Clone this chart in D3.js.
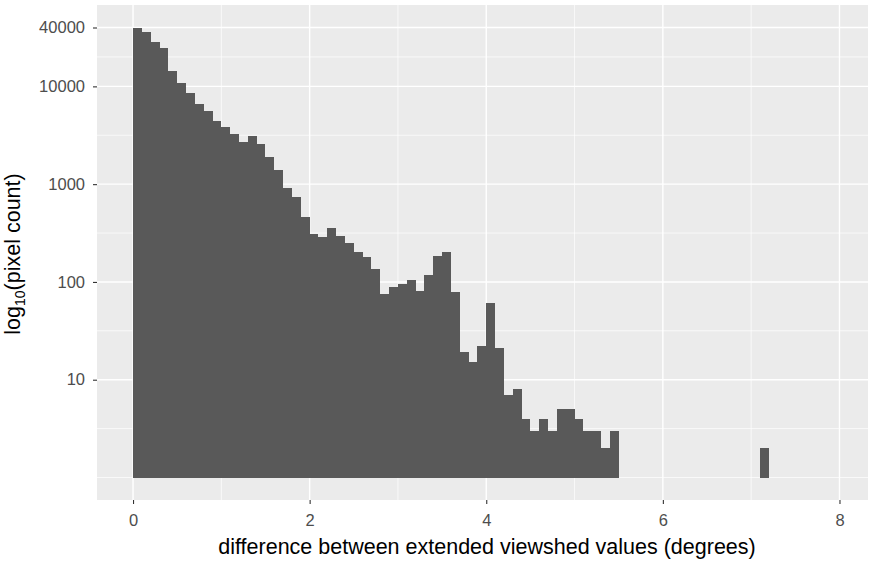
<!DOCTYPE html>
<html>
<head>
<meta charset="utf-8">
<script src="https://cdn.jsdelivr.net/npm/d3@7"></script>
<style>
  body { margin: 0; background: #fff; }
  text { font-family: "Liberation Sans", Arial, sans-serif; }
</style>
</head>
<body>
<div id="chart"></div>
<script>
// histogram counts, bins of width 0.1 starting at 0
const binWidth = 0.1
const counts = [
    40000, 35900, 28600, 24400, 14300, 10700, 8530, 6580, 5620, 4410,
    3880, 3270, 2730, 3140, 2600, 1900, 1380, 916, 747, 466,
    310, 291, 359, 295, 249, 201, 181, 136, 75, 89,
    96, 104, 80, 118, 186, 201, 78, 19, 15, 22,
    61, 21, 7, 8, 4, 3, 4, 3, 5, 5,
    4, 3, 3, 2, 3, 0, 0, 0, 0, 0,
    0, 0, 0, 0, 0, 0, 0, 0, 0, 0,
    0, 2
]
const xTicks = [0, 2, 4, 6, 8]
const xMinor = [1, 3, 5, 7]
const yTicks = [10, 100, 1000, 10000, 40000]
const yMinor = [1, 3.1623, 31.623, 316.23, 3162.3, 20000]

const W = 869, H = 561
const margin = { top: 5, right: 1, bottom: 61, left: 97 }

const bins = counts.map((n, i) => ({ x0: i * binWidth, x1: (i + 1) * binWidth, n: n }))
    .filter(d => d.n > 0)

// ggplot style 5% expansion on the log axis
const logMax = Math.log10(d3.max(counts))
const pad = 0.05 * logMax

const svg = d3.select('#chart').append('svg')
    .attr('width', W)
    .attr('height', H)

const x = d3.scaleLinear()
    .domain([-0.408, 8.323])
    .range([margin.left, W - margin.right])

const y = d3.scaleLog()
    .domain([Math.pow(10, -pad), Math.pow(10, logMax + pad)])
    .range([H - margin.bottom, margin.top])

// panel background
svg.append('rect')
    .attr('x', margin.left)
    .attr('y', margin.top)
    .attr('width', W - margin.right - margin.left)
    .attr('height', H - margin.bottom - margin.top)
    .attr('fill', '#ebebeb')

const grid = svg.append('g')
grid.selectAll('.ymin').data(yMinor).enter().append('line')
    .attr('x1', margin.left).attr('x2', W - margin.right)
    .attr('y1', d => y(d)).attr('y2', d => y(d))
    .attr('stroke', '#fff').attr('stroke-width', 0.7)
grid.selectAll('.xmin').data(xMinor).enter().append('line')
    .attr('x1', d => x(d)).attr('x2', d => x(d))
    .attr('y1', margin.top).attr('y2', H - margin.bottom)
    .attr('stroke', '#fff').attr('stroke-width', 0.7)
grid.selectAll('.ymaj').data(yTicks).enter().append('line')
    .attr('x1', margin.left).attr('x2', W - margin.right)
    .attr('y1', d => y(d)).attr('y2', d => y(d))
    .attr('stroke', '#fff').attr('stroke-width', 1.4)
grid.selectAll('.xmaj').data(xTicks).enter().append('line')
    .attr('x1', d => x(d)).attr('x2', d => x(d))
    .attr('y1', margin.top).attr('y2', H - margin.bottom)
    .attr('stroke', '#fff').attr('stroke-width', 1.4)

// bars, drawn up from 1 (log10 = 0)
svg.append('g').selectAll('rect').data(bins).enter().append('rect')
    .attr('x', d => x(d.x0))
    .attr('width', d => x(d.x1) - x(d.x0))
    .attr('y', d => y(d.n))
    .attr('height', d => y(1) - y(d.n))
    .attr('fill', '#595959')
    .attr('shape-rendering', 'crispEdges')

// axes
const xAxis = svg.append('g')
    .attr('transform', `translate(0,${H - margin.bottom})`)
    .call(d3.axisBottom(x).tickValues(xTicks).tickSize(4).tickPadding(10).tickFormat(d3.format('d')))
const yAxis = svg.append('g')
    .attr('transform', `translate(${margin.left},0)`)
    .call(d3.axisLeft(y).tickValues(yTicks).tickSize(4).tickPadding(8).tickFormat(d3.format('d')))

for (const a of [xAxis, yAxis]) {
    a.select('.domain').remove()
    a.selectAll('.tick line').attr('stroke', '#333').attr('stroke-width', 1.1)
    a.selectAll('.tick text')
        .attr('fill', '#4d4d4d')
        .style('font-size', '16.5px')
        .style('font-family', '"Liberation Sans", Arial, sans-serif')
}

// titles
svg.append('text')
    .attr('x', 487)
    .attr('y', 554)
    .attr('text-anchor', 'middle')
    .style('font-size', '21.5px')
    .attr('fill', '#000')
    .text('difference between extended viewshed values (degrees)')

const yt = svg.append('text')
    .attr('transform', `translate(20,254) rotate(-90)`)
    .attr('text-anchor', 'middle')
    .style('font-size', '21.5px')
    .attr('fill', '#000')
yt.append('tspan').text('log')
yt.append('tspan').attr('dy', 5).style('font-size', '14px').text('10')
yt.append('tspan').attr('dy', -5).text('(pixel count)')
</script>
</body>
</html>
